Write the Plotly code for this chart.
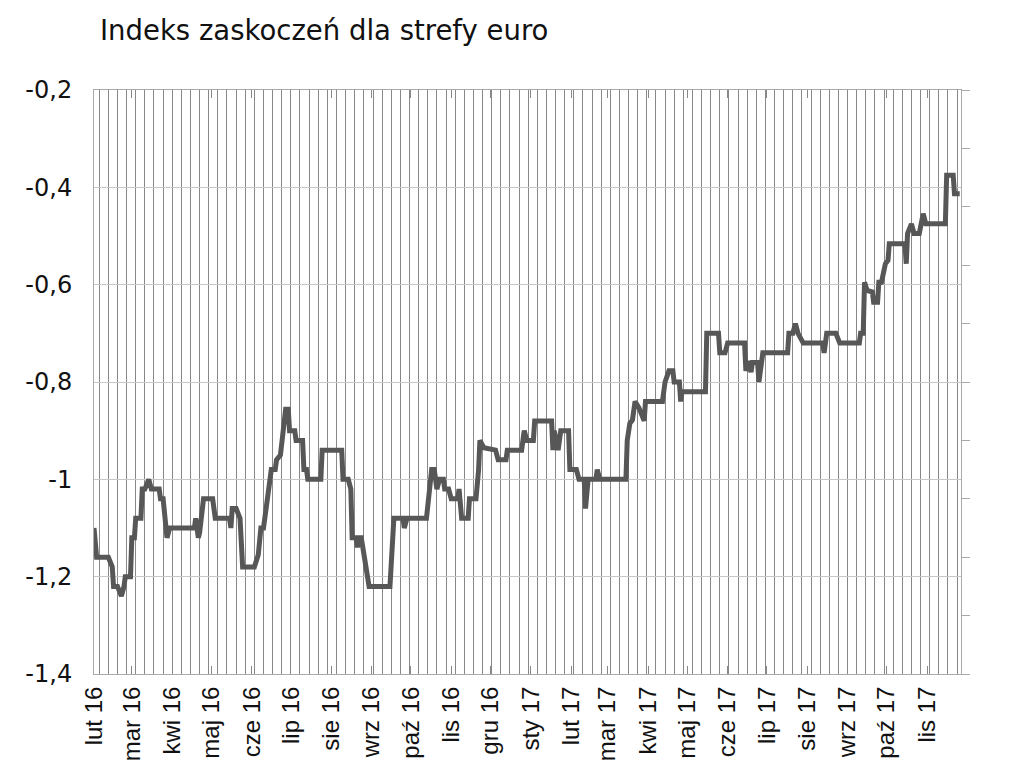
import plotly.graph_objects as go

# ---- data ----
dates = [
    "2016-02-01", "2016-02-03", "2016-02-12", "2016-02-15", "2016-02-16", "2016-02-19",
    "2016-02-22", "2016-02-24", "2016-02-25", "2016-02-29", "2016-03-01", "2016-03-03",
    "2016-03-04", "2016-03-08", "2016-03-09", "2016-03-11", "2016-03-14", "2016-03-16",
    "2016-03-22", "2016-03-23", "2016-03-25", "2016-03-28", "2016-03-30", "2016-04-18",
    "2016-04-19", "2016-04-21", "2016-04-22", "2016-04-25", "2016-05-02", "2016-05-04",
    "2016-05-15", "2016-05-16", "2016-05-17", "2016-05-20", "2016-05-23", "2016-05-24",
    "2016-05-25", "2016-06-03", "2016-06-06", "2016-06-08", "2016-06-10", "2016-06-13",
    "2016-06-16", "2016-06-19", "2016-06-20", "2016-06-23", "2016-06-25", "2016-06-27",
    "2016-06-29", "2016-06-30", "2016-07-04", "2016-07-05", "2016-07-10", "2016-07-11",
    "2016-07-13", "2016-07-14", "2016-07-24", "2016-07-25", "2016-08-09", "2016-08-10",
    "2016-08-14", "2016-08-16", "2016-08-17", "2016-08-20", "2016-08-21", "2016-08-22",
    "2016-08-24", "2016-08-29", "2016-08-30", "2016-09-15", "2016-09-18", "2016-09-25",
    "2016-09-26", "2016-09-28", "2016-10-13", "2016-10-17", "2016-10-19", "2016-10-21",
    "2016-10-23", "2016-10-26", "2016-10-27", "2016-10-30", "2016-11-01", "2016-11-06",
    "2016-11-07", "2016-11-09", "2016-11-14", "2016-11-15", "2016-11-20", "2016-11-22",
    "2016-11-23", "2016-11-26", "2016-12-05", "2016-12-07", "2016-12-13", "2016-12-14",
    "2016-12-25", "2016-12-27", "2016-12-29", "2017-01-03", "2017-01-04", "2017-01-17",
    "2017-01-18", "2017-01-19", "2017-01-22", "2017-01-24", "2017-01-30", "2017-01-31",
    "2017-02-05", "2017-02-07", "2017-02-11", "2017-02-12", "2017-02-14", "2017-02-20",
    "2017-02-21", "2017-02-23", "2017-03-15", "2017-03-16", "2017-03-18", "2017-03-20",
    "2017-03-22", "2017-03-25", "2017-03-29", "2017-03-30", "2017-04-12", "2017-04-14",
    "2017-04-17", "2017-04-20", "2017-04-21", "2017-04-25", "2017-04-26", "2017-04-27",
    "2017-05-15", "2017-05-16", "2017-05-25", "2017-05-26", "2017-05-30", "2017-06-01",
    "2017-06-14", "2017-06-15", "2017-06-17", "2017-06-19", "2017-06-20", "2017-06-24",
    "2017-06-25", "2017-06-27", "2017-06-28", "2017-07-17", "2017-07-18", "2017-07-21",
    "2017-07-23", "2017-07-25", "2017-07-29", "2017-08-13", "2017-08-14", "2017-08-16",
    "2017-08-23", "2017-08-26", "2017-09-10", "2017-09-11", "2017-09-13", "2017-09-14",
    "2017-09-16", "2017-09-20", "2017-09-21", "2017-09-24", "2017-09-25", "2017-09-27",
    "2017-09-30", "2017-10-02", "2017-10-03", "2017-10-15", "2017-10-16", "2017-10-17",
    "2017-10-20", "2017-10-22", "2017-10-26", "2017-10-29", "2017-10-31", "2017-11-15",
    "2017-11-16", "2017-11-21", "2017-11-22", "2017-11-26",
]
values = [
    -1.10, -1.16, -1.16, -1.18, -1.22, -1.22,
    -1.24, -1.22, -1.20, -1.20, -1.12, -1.12,
    -1.08, -1.08, -1.02, -1.02, -1.00, -1.02,
    -1.02, -1.04, -1.04, -1.12, -1.10, -1.10,
    -1.08, -1.12, -1.11, -1.04, -1.04, -1.08,
    -1.08, -1.10, -1.06, -1.06, -1.08, -1.12,
    -1.18, -1.18, -1.155, -1.10, -1.10, -1.04,
    -0.98, -0.98, -0.96, -0.95, -0.90, -0.856,
    -0.856, -0.90, -0.90, -0.92, -0.92, -0.98,
    -0.98, -1.00, -1.00, -0.94, -0.94, -1.00,
    -1.00, -1.02, -1.12, -1.12, -1.14, -1.12,
    -1.12, -1.21, -1.22, -1.22, -1.08, -1.08,
    -1.10, -1.08, -1.08, -0.98, -0.98, -1.02,
    -1.00, -1.00, -1.02, -1.02, -1.04, -1.04,
    -1.02, -1.08, -1.08, -1.04, -1.04, -0.98,
    -0.92, -0.935, -0.94, -0.96, -0.96, -0.94,
    -0.94, -0.90, -0.92, -0.92, -0.88, -0.88,
    -0.94, -0.90, -0.94, -0.90, -0.90, -0.98,
    -0.98, -1.00, -1.00, -1.06, -1.00, -1.00,
    -0.98, -1.00, -1.00, -0.92, -0.885, -0.878,
    -0.84, -0.853, -0.88, -0.84, -0.84, -0.80,
    -0.777, -0.777, -0.80, -0.80, -0.84, -0.82,
    -0.82, -0.70, -0.70, -0.74, -0.74, -0.72,
    -0.72, -0.777, -0.757, -0.78, -0.76, -0.76,
    -0.80, -0.76, -0.74, -0.74, -0.70, -0.70,
    -0.68, -0.70, -0.72, -0.72, -0.74, -0.70,
    -0.70, -0.72, -0.72, -0.70, -0.70, -0.595,
    -0.612, -0.615, -0.636, -0.636, -0.595, -0.595,
    -0.557, -0.55, -0.516, -0.516, -0.557, -0.495,
    -0.475, -0.495, -0.495, -0.454, -0.475, -0.475,
    -0.375, -0.375, -0.413, -0.413,
]

month_ticks = [
    "2016-02-01", "2016-03-01", "2016-04-01", "2016-05-01", "2016-06-01", "2016-07-01",
    "2016-08-01", "2016-09-01", "2016-10-01", "2016-11-01", "2016-12-01", "2017-01-01",
    "2017-02-01", "2017-03-01", "2017-04-01", "2017-05-01", "2017-06-01", "2017-07-01",
    "2017-08-01", "2017-09-01", "2017-10-01", "2017-11-01",
]
month_labels = [
    "lut 16", "mar 16", "kwi 16", "maj 16", "cze 16", "lip 16",
    "sie 16", "wrz 16", "paź 16", "lis 16", "gru 16", "sty 17",
    "lut 17", "mar 17", "kwi 17", "maj 17", "cze 17", "lip 17",
    "sie 17", "wrz 17", "paź 17", "lis 17",
]
y_ticks = [-0.2, -0.4, -0.6, -0.8, -1.0, -1.2, -1.4]
y_labels = ["-0,2", "-0,4", "-0,6", "-0,8", "-1", "-1,2", "-1,4"]
title_text = "Indeks zaskoczeń dla strefy euro"

W, H = 1015, 764

fig = go.Figure()
fig.add_trace(go.Scatter(
    x=dates, y=values, mode="lines",
    line=dict(color="#575757", width=5),
    hoverinfo="skip", showlegend=False,
))
# empty trace so the secondary (right) axis is drawn
fig.add_trace(go.Scatter(x=[], y=[], yaxis="y2", mode="lines",
                         hoverinfo="skip", showlegend=False))

fig.update_layout(
    width=W, height=H,
    margin=dict(l=86, r=62, t=82, b=98, pad=0),
    paper_bgcolor="white", plot_bgcolor="white",
    showlegend=False,
    title=dict(
        text=title_text, x=92 / W, xanchor="left", xref="container",
        y=1 - 22 / H, yanchor="middle", yref="container",
        font=dict(family="DejaVu Sans", size=27.5, color="#111111"),
    ),
    xaxis=dict(
        type="date",
        range=["2016-02-01", "2017-11-27"],
        tickmode="array", tickvals=month_ticks, ticktext=month_labels,
        tickangle=-90,
        tickfont=dict(family="Liberation Sans", size=24, color="#111111"),
        showgrid=False,
        showline=True, linecolor="#aaaaaa", linewidth=1,
        mirror="ticks",
        ticks="inside", ticklen=8, tickcolor="#888888", tickwidth=1,
        ticklabelstandoff=2,
        minor=dict(
            tick0="2016-02-05", dtick=7 * 86400000,
            showgrid=True, gridcolor="#888888", gridwidth=1.3, ticks="",
        ),
        zeroline=False,
    ),
    yaxis=dict(
        range=[-1.4, -0.2],
        tickmode="array", tickvals=y_ticks, ticktext=y_labels,
        tickfont=dict(family="DejaVu Sans", size=24, color="#111111"),
        showgrid=True, gridcolor="#c8c8c8", gridwidth=1,
        showline=True, linecolor="#aaaaaa", linewidth=1,
        ticks="", ticklabelstandoff=16,
        zeroline=False,
    ),
    yaxis2=dict(
        overlaying="y", side="right",
        range=[0, 10], dtick=1, tick0=0,
        showticklabels=False, showgrid=False,
        showline=True, linecolor="#aaaaaa", linewidth=1,
        ticks="outside", ticklen=8, tickcolor="#aaaaaa",
        zeroline=False,
    ),
)

fig.write_html("out.html")
